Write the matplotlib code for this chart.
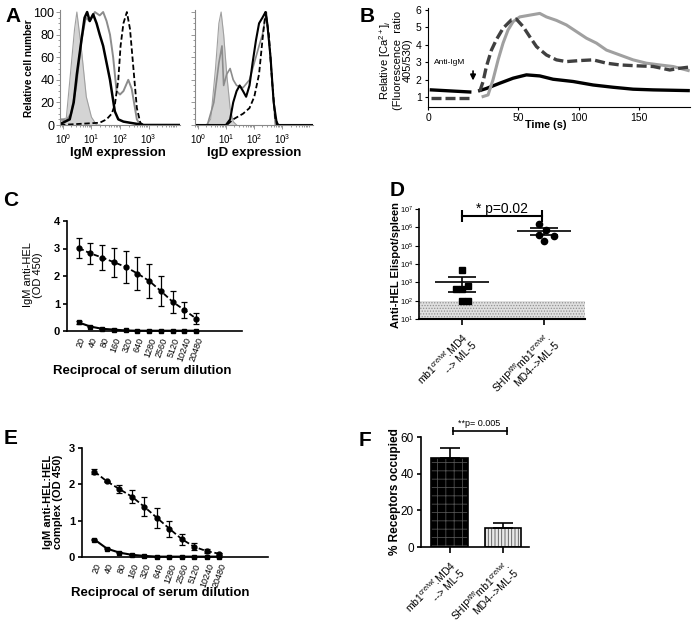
import numpy as np
import matplotlib
matplotlib.use('Agg')
import matplotlib.pyplot as plt
from matplotlib.ticker import LogLocator, NullFormatter, FixedLocator

plt.rcParams['font.family'] = ['Liberation Sans', 'DejaVu Sans']
plt.rcParams['mathtext.fontset'] = 'custom'
plt.rcParams['mathtext.rm'] = 'Liberation Sans'
plt.rcParams['mathtext.it'] = 'Liberation Sans:italic'
plt.rcParams['mathtext.bf'] = 'Liberation Sans:bold'
plt.rcParams['hatch.linewidth'] = 0.6

# ------------------------- Data -------------------------
# A: flow histograms (x as log10 of fluorescence, y as relative cell number)
igm_fill_log = [-0.1, 0.12, 0.29, 0.41, 0.49, 0.65, 0.82, 1.0, 1.18, 1.3]
igm_fill_y = [5, 6, 52, 85, 100, 67, 25, 7, 0, 0]
igm_black_log = [-0.1, 0.0, 0.24, 0.38, 0.49, 0.65, 0.76, 0.85, 0.94, 1.06, 1.18, 1.29, 1.41,
                 1.53, 1.65, 1.74, 1.82, 1.94, 2.12, 2.35, 2.59, 2.82, 4.1]
igm_black_y = [1, 2, 5, 20, 45, 75, 95, 100, 92, 98, 90, 80, 70, 55, 40, 25, 12, 5, 3, 2, 1, 0, 0]
igm_gray_log = [-0.1, 0.12, 0.29, 0.47, 0.65, 0.8, 0.94, 1.12, 1.29, 1.41, 1.53, 1.65, 1.76,
                1.88, 2.0, 2.12, 2.29, 2.41, 2.49, 2.59, 2.71, 4.1]
igm_gray_y = [5, 4, 10, 35, 75, 95, 92, 100, 97, 100, 92, 80, 60, 30, 27, 30, 40, 32, 20, 5, 0, 0]
igm_dash_log = [-0.1, 1.29, 1.53, 1.71, 1.82, 1.94, 2.02, 2.12, 2.24, 2.35, 2.47, 2.59, 2.71, 2.82, 4.1]
igm_dash_y = [0, 2, 5, 10, 18, 40, 70, 90, 100, 85, 50, 15, 2, 0, 0]

igd_fill_log = [-0.1, 0.3, 0.46, 0.63, 0.75, 0.83, 0.92, 1.03, 1.15, 1.26, 1.38]
igd_fill_y = [0, 0, 5, 50, 90, 100, 80, 45, 15, 3, 0]
igd_gray_log = [-0.1, 0.34, 0.57, 0.75, 0.86, 0.92, 1.03, 1.15, 1.26, 1.38, 1.61, 1.84, 2.01,
                2.18, 2.30, 2.44, 2.53, 2.64, 2.76, 4.1]
igd_gray_y = [0, 0, 20, 55, 70, 35, 45, 50, 40, 35, 33, 40, 55, 70, 80, 100, 75, 40, 0, 0]
igd_black_log = [-0.1, 1.0, 1.15, 1.26, 1.38, 1.49, 1.61, 1.72, 1.84, 1.95, 2.07, 2.18, 2.30,
                 2.41, 2.47, 2.59, 2.70, 2.82, 4.1]
igd_black_y = [0, 0, 5, 20, 30, 35, 30, 25, 35, 55, 75, 90, 95, 100, 90, 60, 20, 0, 0]
igd_dash_log = [-0.1, 1.03, 1.26, 1.61, 1.84, 2.01, 2.18, 2.30, 2.41, 2.53, 2.64, 2.76, 2.87, 4.1]
igd_dash_y = [0, 0, 5, 10, 15, 25, 45, 75, 100, 80, 40, 5, 0, 0]

# B: calcium flux
ca_black_pre_t = [-21.6, 10.1]
ca_black_pre_y = [1.42, 1.3]
ca_black_t = [18.3, 23.8, 34.8, 45.9, 56.9, 67.9, 78.9, 95.5, 112, 128.5, 145, 161.6, 190.5]
ca_black_y = [1.38, 1.5, 1.8, 2.09, 2.28, 2.22, 2.03, 1.9, 1.7, 1.57, 1.46, 1.42, 1.38]
ca_dash_pre_t = [-21.6, 12.8]
ca_dash_pre_y = [0.94, 0.94]
ca_dash_t = [18.3, 21.1, 23.8, 28, 32.1, 37.6, 44.5, 48.6, 54.1, 59.6, 65.2, 73.4, 81.7, 89.9,
             101, 112, 123, 134, 147.8, 161.6, 175.3, 183.6, 190.5]
ca_dash_y = [1.32, 1.9, 2.75, 3.7, 4.3, 4.95, 5.43, 5.47, 5.05, 4.47, 3.9, 3.42, 3.14, 3.04,
             3.1, 3.14, 2.95, 2.85, 2.8, 2.76, 2.56, 2.66, 2.72]
ca_gray_t = [21.1, 25.2, 29.3, 33.5, 37.6, 41.7, 45.9, 51.4, 59.6, 67.9, 73.4, 81.7, 89.9, 98.2,
             106.5, 114.7, 123, 134, 145, 156, 167, 178, 190.5]
ca_gray_y = [1.04, 1.13, 2.0, 3.14, 4.1, 4.85, 5.33, 5.6, 5.7, 5.8, 5.6, 5.4, 5.14, 4.76, 4.38,
             4.1, 3.7, 3.42, 3.14, 2.95, 2.85, 2.76, 2.53]

# C and E: ELISA titrations
dilutions = ['20', '40', '80', '160', '320', '640', '1280', '2560', '5120', '10240', '20480']
c_ship = [3.02, 2.82, 2.67, 2.5, 2.33, 2.09, 1.82, 1.45, 1.06, 0.76, 0.45]
c_ship_err = [0.36, 0.39, 0.45, 0.52, 0.57, 0.6, 0.61, 0.54, 0.4, 0.3, 0.2]
c_ctrl = [0.31, 0.16, 0.08, 0.05, 0.02, 0.01, 0.01, 0.01, 0.01, 0.01, 0.01]
c_ctrl_err = [0.06, 0.02, 0.01, 0.01, 0, 0, 0, 0, 0, 0, 0]
e_ship = [2.35, 2.08, 1.87, 1.66, 1.38, 1.08, 0.78, 0.49, 0.28, 0.16, 0.09]
e_ship_err = [0.07, 0.02, 0.11, 0.18, 0.26, 0.27, 0.22, 0.15, 0.1, 0.06, 0.03]
e_ctrl = [0.48, 0.23, 0.12, 0.06, 0.03, 0.01, 0.01, 0.01, 0.01, 0.01, 0.01]
e_ctrl_err = [0.02, 0.01, 0.01, 0, 0, 0, 0, 0, 0, 0, 0]

# D: Elispot
group_labels = ['mb1$^{cre/wt}$.MD4\n--> ML-5', 'SHIP$^{fl/fl}$mb1$^{cre/wt}$.\nMD4-->ML-5']
d_ctrl = [4800, 440, 440, 630, 100, 100]
d_ctrl_jit = [0.0, -0.07, 0.0, 0.08, 0.0, 0.08]
d_ctrl_mean, d_ctrl_lo, d_ctrl_hi = 1100, 310, 1900
d_ship = [1.6e6, 7.4e5, 4.0e5, 3.5e5, 1.9e5]
d_ship_jit = [-0.06, 0.02, -0.06, 0.12, 0.0]
d_ship_mean, d_ship_lo, d_ship_hi = 6.5e5, 4.0e5, 9.1e5

# F: receptor occupancy
f_vals = [48.3, 10.6]
f_err = [5.8, 2.6]

# ------------------------- Layout helpers -------------------------
W, H = 698, 635
fig = plt.figure(figsize=(W / 100, H / 100), dpi=100)


def ax_at(l, t, r, b):
    return fig.add_axes([l / W, 1 - b / H, (r - l) / W, (b - t) / H])


def text_at(x, y, s, **kw):
    fig.text(x / W, 1 - y / H, s, **kw)


def clean(ax):
    ax.spines['top'].set_visible(False)
    ax.spines['right'].set_visible(False)


# ------------------------- A -------------------------
def hist_axes(ax, fill, curves, show_y):
    ax.fill_between(10 ** np.array(fill[0]), fill[1], color='#d4d4d4', lw=0)
    ax.plot(10 ** np.array(fill[0]), fill[1], color='#a0a0a0', lw=0.8)
    for lx, ly, kw in curves:
        ax.plot(10 ** np.array(lx), ly, **kw)
    ax.set_xscale('log')
    ax.set_xlim(10 ** -0.1, 10 ** 4.1)
    ax.set_ylim(0, 101.8)
    clean(ax)
    for s in ['left', 'bottom']:
        ax.spines[s].set_color('#888888')
        ax.spines[s].set_linewidth(0.8)
    ax.xaxis.set_major_locator(FixedLocator([1, 10, 100, 1000]))
    ax.xaxis.set_minor_locator(LogLocator(base=10, subs=np.arange(2, 10), numticks=20))
    ax.xaxis.set_minor_formatter(NullFormatter())
    ax.set_yticks([0, 20, 40, 60, 80, 100])
    ax.set_yticks(np.arange(0, 101, 5), minor=True)
    ax.tick_params(axis='both', which='both', color='#888888', width=0.6)
    ax.tick_params(axis='both', which='major', length=3)
    ax.tick_params(axis='both', which='minor', length=1.5)
    ax.tick_params(axis='x', labelsize=7, pad=2)
    ax.tick_params(axis='y', labelsize=9, pad=1)
    if not show_y:
        ax.set_yticklabels([])


ax = ax_at(60, 10, 180, 125)
hist_axes(ax, (igm_fill_log, igm_fill_y),
          [(igm_gray_log, igm_gray_y, dict(color='#8c8c8c', lw=1.4)),
           (igm_dash_log, igm_dash_y, dict(color='black', lw=1.3, ls=(0, (3, 1.5)))),
           (igm_black_log, igm_black_y, dict(color='black', lw=1.8))], True)
ax = ax_at(195, 10, 313, 125)
hist_axes(ax, (igd_fill_log, igd_fill_y),
          [(igd_gray_log, igd_gray_y, dict(color='#8c8c8c', lw=1.2)),
           (igd_dash_log, igd_dash_y, dict(color='black', lw=1.3, ls=(0, (3, 1.5)))),
           (igd_black_log, igd_black_y, dict(color='black', lw=1.5))], False)

text_at(29, 68, 'Relative cell number', rotation=90, ha='center', va='center',
        fontsize=7.2, fontweight='bold')
text_at(118, 153, 'IgM expression', ha='center', va='center', fontsize=9.5, fontweight='bold')
text_at(254, 153, 'IgD expression', ha='center', va='center', fontsize=9.5, fontweight='bold')

# ------------------------- B -------------------------
ax = ax_at(428, 8, 690, 107)
ax.plot(ca_black_pre_t, ca_black_pre_y, color='black', lw=2.4)
ax.plot(ca_black_t, ca_black_y, color='black', lw=2.4)
ax.plot(ca_gray_t, ca_gray_y, color='#a0a0a0', lw=2.2)
ax.plot(ca_dash_pre_t, ca_dash_pre_y, color='#404040', lw=2.4, ls=(0, (3, 1.2)))
ax.plot(ca_dash_t, ca_dash_y, color='#404040', lw=2.4, ls=(0, (3, 1.2)))
ax.set_xlim(-24.4, 192)
ax.set_ylim(0.44, 6.11)
clean(ax)
ax.set_xticks([-24.4, 50, 100, 150])
ax.set_xticklabels(['0', '50', '100', '150'])
ax.set_yticks([1, 2, 3, 4, 5, 6])
ax.tick_params(labelsize=7.5, length=2.5, pad=2)
ax.annotate('', xy=(12.8, 1.8), xytext=(12.8, 2.66),
            arrowprops=dict(arrowstyle='-|>', color='black', lw=1.2, mutation_scale=8))
ax.text(-6.2, 2.96, 'Anti-IgM', fontsize=6, ha='center', va='center')
text_at(546, 125, 'Time (s)', ha='center', va='center', fontsize=7.8, fontweight='bold')
text_at(395, 60, 'Relative [Ca$^{2+}$]$_i$\n(Fluorescence  ratio\n405/530)', rotation=90,
        ha='center', va='center', fontsize=8, linespacing=1.0)


# ------------------------- C and E -------------------------
def titration(ax, ship, ship_err, ctrl, ctrl_err, ytop):
    x = np.arange(len(dilutions))
    ax.errorbar(x, ship, yerr=ship_err, color='black', lw=1.3, ls=(0, (3, 1.5)), marker='o',
                ms=3.5, capsize=2.5, elinewidth=0.9, capthick=0.9, clip_on=False)
    ax.errorbar(x, ctrl, yerr=ctrl_err, color='black', lw=1.5, marker='s', ms=3.5,
                capsize=2.5, elinewidth=0.9, capthick=0.9, clip_on=False)
    ax.set_xlim(-1.0, 13.9)
    ax.set_ylim(0, ytop)
    clean(ax)
    ax.spines['left'].set_linewidth(1.2)
    ax.spines['bottom'].set_linewidth(1.2)
    ax.set_yticks(np.arange(0, ytop + 1))
    ax.set_xticks(x)
    ax.set_xticklabels(dilutions, rotation=70, ha='right', rotation_mode='anchor', fontsize=6.5)
    ax.tick_params(axis='x', length=0, pad=4)
    ax.tick_params(axis='y', length=3, width=1.2, labelsize=8, pad=2)
    for t in ax.get_yticklabels():
        t.set_fontweight('bold')


ax = ax_at(67, 221, 242, 331)
titration(ax, c_ship, c_ship_err, c_ctrl, c_ctrl_err, 4)
text_at(33, 275, 'IgM anti-HEL\n(OD 450)', rotation=90, ha='center', va='center',
        fontsize=8, linespacing=1.0)
text_at(142, 371, 'Reciprocal of serum dilution', ha='center', va='center', fontsize=9.5,
        fontweight='bold')

ax = ax_at(82, 448, 268, 557)
titration(ax, e_ship, e_ship_err, e_ctrl, e_ctrl_err, 3)
text_at(53, 502, 'IgM anti-HEL:HEL\ncomplex (OD 450)', rotation=90, ha='center', va='center',
        fontsize=8, fontweight='bold', linespacing=1.0)
text_at(160, 593, 'Reciprocal of serum dilution', ha='center', va='center', fontsize=9.5,
        fontweight='bold')

# ------------------------- D -------------------------
ax = ax_at(419, 209, 585, 319)
ax.set_yscale('log')
ax.axhspan(10, 100, facecolor='#e0e0e0', edgecolor='#909090', hatch='......', lw=0)
ax.plot(np.array(d_ctrl_jit), d_ctrl, 's', color='black', ms=4.5, clip_on=False)
ax.plot(1 + np.array(d_ship_jit), d_ship, 'o', color='black', ms=4.5, clip_on=False)
for xc, m, lo, hi in [(0, d_ctrl_mean, d_ctrl_lo, d_ctrl_hi), (1, d_ship_mean, d_ship_lo, d_ship_hi)]:
    ax.hlines(m, xc - 0.33, xc + 0.33, color='black', lw=1.2)
    ax.errorbar([xc], [m], yerr=[[m - lo], [hi - m]], color='black', lw=1.2, capsize=10,
                capthick=1.2, fmt='none')
ax.plot([0, 0.98], [4.4e6, 4.4e6], color='black', lw=1.5, clip_on=False)
ax.plot([0, 0.98], [4.4e6, 4.4e6], '|', color='black', ms=9, mew=1.5, clip_on=False)
ax.text(0.49, 1.0e7, '* p=0.02', ha='center', va='center', fontsize=10, clip_on=False)
ax.set_xlim(-0.52, 1.5)
ax.set_ylim(10, 1e7)
clean(ax)
ax.spines['left'].set_linewidth(1.2)
ax.spines['bottom'].set_linewidth(1.5)
ax.yaxis.set_major_locator(LogLocator(base=10, numticks=10))
ax.yaxis.set_minor_formatter(NullFormatter())
ax.tick_params(axis='y', which='minor', length=0)
ax.tick_params(axis='y', labelsize=5.5, length=3, pad=1)
ax.set_xticks([0, 1])
ax.set_xticklabels(group_labels, rotation=45, ha='right', va='top', rotation_mode='anchor',
                   fontsize=7.5, linespacing=1.0)
ax.tick_params(axis='x', length=4, width=1.2, pad=4)
text_at(396, 265, 'Anti-HEL Elispot/spleen', rotation=90, ha='center', va='center',
        fontsize=8, fontweight='bold')

# ------------------------- F -------------------------
ax = ax_at(421, 437, 529, 547)
bx = np.arange(2)
ax.bar(bx[:1], f_vals[:1], width=0.69, color='black', edgecolor='#505050', hatch='++', lw=0)
ax.bar(bx[1:], f_vals[1:], width=0.69, color='#e8e8e8', edgecolor='#555555', hatch='|||||', lw=0)
ax.bar(bx, f_vals, width=0.69, fill=False, edgecolor='black', lw=1.2)
ax.errorbar(bx, f_vals, yerr=[[0, 0], f_err], fmt='none', ecolor='black', lw=1.2, capsize=7,
            capthick=1.2)
ax.plot([0.06, 1.07], [63.2, 63.2], color='black', lw=1.2, clip_on=False)
ax.plot([0.06, 1.07], [63.2, 63.2], '|', color='black', ms=6, mew=1.2, clip_on=False)
ax.text(0.56, 67.5, '**p= 0.005', ha='center', va='center', fontsize=6.5, clip_on=False)
ax.set_xlim(-0.54, 1.49)
ax.set_ylim(0, 60)
clean(ax)
ax.spines['left'].set_linewidth(1.2)
ax.spines['bottom'].set_linewidth(1.2)
ax.set_yticks([0, 20, 40, 60])
ax.tick_params(axis='y', labelsize=8.5, length=3, width=1.2, pad=2)
ax.set_xticks(bx)
ax.set_xticklabels(group_labels, rotation=45, ha='right', va='top', rotation_mode='anchor',
                   fontsize=7.5, linespacing=1.0)
ax.tick_params(axis='x', length=4, width=1.2, pad=4)
text_at(395, 492, '% Receptors occupied', rotation=90, ha='center', va='center',
        fontsize=8.5, fontweight='bold')

# ------------------------- Panel letters -------------------------
for lab, x, y in [('A', 13, 16), ('B', 367, 16), ('C', 11, 201), ('D', 397, 190),
                  ('E', 11, 439), ('F', 365, 441)]:
    text_at(x, y, lab, ha='center', va='center', fontsize=15, fontweight='bold')

fig.savefig('out.png', dpi=100)
